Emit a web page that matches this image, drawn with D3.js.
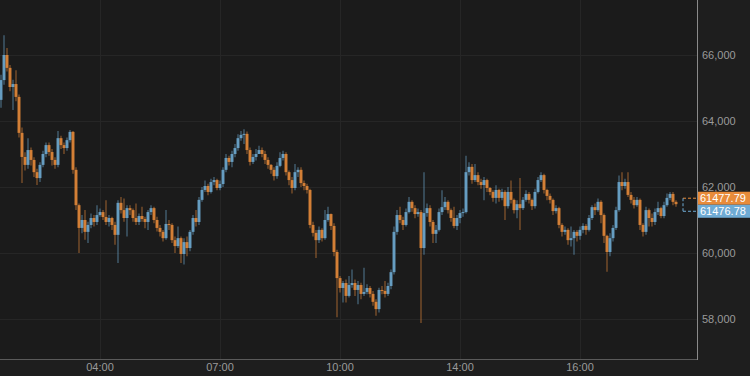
<!DOCTYPE html>
<html>
<head>
<meta charset="utf-8">
<script src="https://cdn.jsdelivr.net/npm/d3@7"></script>
<style>
  html, body { margin: 0; padding: 0; background: #1e1e1e; }
  svg { display: block; font-family: "Liberation Sans", Arial, sans-serif; }
</style>
</head>
<body>
<svg id="chart"></svg>
<script>
// ---- Data ----
const firstOpen = 64640;
const closes = [
  65240, 66000, 65610, 65030, 65120, 64730, 63640, 62910, 62670, 63120,
  62820, 62450, 62270, 62670, 63000, 63270, 63060, 62820, 62670, 63480,
  63270, 63180, 63420, 63670, 62520, 61450, 60760, 61000, 60640, 60850,
  61060, 60940, 61150, 61240, 61090, 60940, 61060, 60850, 60550, 61520,
  61300, 61060, 61360, 61300, 61060, 60940, 61120, 61030, 60940, 61240,
  61360, 61000, 60760, 60640, 60450, 60880, 60850, 60390, 60210, 60450,
  59970, 60330, 60150, 60640, 61060, 60940, 61610, 61910, 62030, 61850,
  62150, 62210, 61970, 62090, 62520, 62880, 62760, 63000, 63180, 63480,
  63580, 63610, 63120, 62760, 62910, 63000, 63120, 63000, 62820, 62670,
  62520, 62330, 62640, 62880, 63000, 62450, 62210, 61970, 62450, 62520,
  62120, 62030, 61910, 60850, 60610, 60390, 60700, 60450, 61000, 61180,
  60820, 60030, 59240, 58940, 59090, 58700, 59030, 59090, 58880, 59030,
  58760, 58820, 58940, 58760, 58520, 58300, 58880, 58850, 58760, 59000,
  59420, 60640, 61150, 61000, 60850, 61240, 61550, 61360, 61180, 61240,
  60150, 61210, 61360, 60940, 60580, 60700, 61240, 61390, 61550, 61300,
  61060, 60820, 61060, 61210, 61240, 62450, 62610, 62210, 62360, 62150,
  62060, 62210, 61970, 61850, 61670, 61910, 61670, 61850, 61420, 61850,
  61610, 61300, 61480, 61360, 61610, 61790, 61610, 61420, 61850, 62210,
  62360, 61910, 61730, 61610, 61270, 61360, 60850, 60640, 60700, 60390,
  60450, 60640, 60520, 60700, 60820, 60700, 61060, 61390, 61300, 61550,
  61150, 60520, 60030, 60450, 60760, 61300, 62150, 62030, 62150, 61760,
  61610, 61450, 61610, 60850, 60640, 61300, 61060, 60940, 61240, 61360,
  61120, 61450, 61670, 61790, 61550, 61480
];
const highs = [
  65400, 66600, 66210, 65700, 65250, 65540, 64800, 63800, 63050, 63480,
  63200, 62900, 62550, 62750, 63100, 63350, 63350, 63150, 62900, 63700,
  63550, 63350, 63500, 63730, 63700, 62600, 61500, 61150, 61300, 60950,
  61200, 61150, 61450, 61350, 61300, 61600, 61150, 61100, 60950, 61600,
  61700, 61650, 61450, 61450, 61350, 61500, 61200, 61400, 61100, 61300,
  61450, 61400, 61100, 60850, 60700, 61300, 61000, 60900, 60500, 60800,
  60500, 60450, 60500, 60700, 61150, 61300, 61700, 62000, 62200, 62100,
  62250, 62300, 62250, 62200, 62600, 63000, 62950, 63100, 63300, 63600,
  63700, 63750, 63680, 63200, 63000, 63150, 63250, 63200, 63100, 62900,
  62700, 62600, 62750, 63050, 63100, 63050, 62500, 62300, 62700, 62600,
  62600, 62200, 62100, 61950, 60950, 60700, 60800, 60750, 61300, 61400,
  61200, 60900, 60100, 59300, 59150, 59200, 59300, 59500, 59200, 59150,
  59100, 59550, 59050, 59000, 58850, 58600, 58950, 59000, 59150, 59100,
  59500, 60800, 61300, 61400, 61100, 61350, 61700, 61600, 61450, 61350,
  61300, 62450, 61500, 61450, 61000, 60850, 61350, 61900, 61700, 61600,
  61350, 61400, 61150, 61300, 61350, 62950, 62750, 62700, 62700, 62450,
  62250, 62300, 62250, 62000, 61900, 62050, 61950, 61950, 61900, 62000,
  62200, 61650, 61600, 62270, 61700, 61900, 61850, 61650, 61950, 62300,
  62450, 62400, 61950, 61800, 61650, 61450, 61400, 60900, 60800, 60750,
  60800, 60700, 60700, 60800, 60900, 60880, 61150, 61450, 61500, 61650,
  61600, 61200, 60550, 60600, 60850, 61400, 62350, 62450, 62250, 62450,
  61850, 61700, 61700, 61650, 60900, 61400, 61350, 61200, 61350, 61550,
  61400, 61550, 61800, 61850, 61850, 61600
];
const lows = [
  64400, 65100, 65500, 64900, 64330, 64600, 63500, 62120, 62500, 62550,
  62650, 62300, 62060, 62150, 62600, 62900, 62950, 62650, 62550, 62600,
  63150, 63000, 63100, 63350, 62400, 61300, 60000, 60600, 60400, 60300,
  60750, 60800, 60850, 61100, 61000, 60850, 60800, 60700, 60250, 59700,
  61200, 60950, 60500, 61150, 60950, 60850, 60850, 60950, 60750, 60700,
  61150, 60900, 60650, 60500, 60350, 60400, 60700, 60300, 60000, 60150,
  59700, 59650, 59900, 60050, 60550, 60800, 60850, 61550, 61850, 61750,
  61800, 62050, 61900, 61900, 62000, 62450, 62650, 62600, 62900, 63100,
  63400, 63300, 63000, 62650, 62700, 62800, 63000, 62900, 62700, 62550,
  62400, 62200, 62250, 62600, 62800, 62350, 62050, 61800, 61900, 62300,
  62000, 61900, 61800, 60750, 60500, 59850, 60300, 60350, 60400, 60950,
  60700, 59900, 58050, 58800, 58500, 58500, 58650, 58950, 58700, 58450,
  58600, 58700, 58750, 58650, 58400, 58100, 58200, 58750, 58650, 58700,
  58900, 59350, 60550, 60900, 60700, 60800, 61200, 61250, 61050, 61100,
  57880, 59950, 61100, 60800, 60300, 60300, 60650, 61150, 61300, 61200,
  60950, 60750, 60700, 60900, 61100, 61200, 62350, 62100, 62150, 62050,
  61950, 61600, 61850, 61750, 61550, 61500, 61550, 61600, 61000, 61350,
  61500, 61200, 61050, 60700, 61300, 61550, 61500, 61300, 61350, 61800,
  62150, 61800, 61600, 61500, 61150, 61200, 60750, 60500, 60550, 60250,
  60200, 59950, 60350, 60400, 60600, 60550, 60650, 61000, 61150, 61250,
  60900, 60300, 59430, 59900, 60350, 60700, 61250, 61900, 61950, 61700,
  61500, 61350, 61400, 60700, 60500, 60550, 60800, 60800, 60850, 61150,
  61050, 61050, 61400, 61600, 61450, 61400
];

const yTicks = [58000, 60000, 62000, 64000, 66000];
const timeLabels = ['04:00', '07:00', '10:00', '14:00', '16:00'];
const timeIndex = [33, 73, 113, 153, 193];

const lastAsk = 61477.79;
const lastBid = 61476.78;

// ---- Layout ----
const W = 750, H = 376;
const plotRight = 697, plotBottom = 359;
const UP = '#6fabd4', DOWN = '#e88b3a';

const svg = d3.select('#chart').attr('width', W).attr('height', H);

svg.append('rect').attr('width', W).attr('height', H).attr('fill', '#1e1e1e');
svg.append('rect').attr('width', plotRight).attr('height', plotBottom).attr('fill', '#1b1b1b');

const x = d3.scaleLinear().domain([0, closes.length - 1]).range([1, 676]);
const y = d3.scaleLinear().domain([58000, 66000]).range([319, 55]);

// ---- Grid ----
const grid = svg.append('g').attr('stroke', '#262626').attr('stroke-width', 1);
grid.selectAll('.hg').data(yTicks).join('line')
  .attr('x1', 0).attr('x2', plotRight)
  .attr('y1', d => Math.round(y(d)) + 0.5).attr('y2', d => Math.round(y(d)) + 0.5);
grid.selectAll('.vg').data(timeIndex).join('line')
  .attr('y1', 0).attr('y2', plotBottom)
  .attr('x1', d => Math.round(x(d)) + 0.5).attr('x2', d => Math.round(x(d)) + 0.5);

// ---- Candles ----
const candles = closes.map((c, i) => ({
  i, close: c, open: i === 0 ? firstOpen : closes[i - 1], high: highs[i], low: lows[i]
}));

const layer = svg.append('g');
const g = layer.selectAll('g.candle').data(candles).join('g').attr('class', 'candle');

g.append('line')
  .attr('x1', d => x(d.i)).attr('x2', d => x(d.i))
  .attr('y1', d => y(d.high)).attr('y2', d => y(d.low))
  .attr('stroke', d => d.close >= d.open ? UP : DOWN)
  .attr('stroke-opacity', 0.55)
  .attr('stroke-width', 1.2);

g.append('rect')
  .attr('x', d => x(d.i) - 1.5)
  .attr('width', 3)
  .attr('y', d => y(Math.max(d.open, d.close)))
  .attr('height', d => Math.max(1, Math.abs(y(d.open) - y(d.close))))
  .attr('fill', d => d.close >= d.open ? UP : DOWN)
  .attr('fill-opacity', 0.85);

// ---- Last price marker ----
const mx = 683;
const yA = y(lastAsk) - 6, yB = y(lastBid) + 7;
svg.append('line').attr('x1', mx).attr('x2', plotRight).attr('y1', yA).attr('y2', yA)
  .attr('stroke', DOWN).attr('stroke-dasharray', '3,2');
svg.append('line').attr('x1', mx).attr('x2', plotRight).attr('y1', yB).attr('y2', yB)
  .attr('stroke', UP).attr('stroke-dasharray', '3,2');
svg.append('line').attr('x1', mx).attr('x2', mx).attr('y1', yA).attr('y2', yB)
  .attr('stroke', UP).attr('stroke-dasharray', '3,2');

// ---- Axes ----
svg.append('line').attr('x1', plotRight + 0.5).attr('x2', plotRight + 0.5)
  .attr('y1', 0).attr('y2', plotBottom + 1).attr('stroke', '#8a8a8a');
svg.append('line').attr('x1', 0).attr('x2', plotRight)
  .attr('y1', plotBottom + 0.5).attr('y2', plotBottom + 0.5).attr('stroke', '#5a5a5a');

svg.selectAll('.ylab').data(yTicks).join('text')
  .attr('x', 702).attr('y', d => y(d) + 4)
  .attr('fill', '#9a9a9a').attr('font-size', 11)
  .text(d => d3.format(',')(d));

svg.selectAll('.xlab').data(timeIndex).join('text')
  .attr('x', d => x(d)).attr('y', 371)
  .attr('text-anchor', 'middle')
  .attr('fill', '#9a9a9a').attr('font-size', 11)
  .text((d, i) => timeLabels[i]);

// ---- Price tags ----
const tags = [
  { v: lastAsk, cy: yA, color: DOWN },
  { v: lastBid, cy: yB, color: UP }
];
const tg = svg.selectAll('.tag').data(tags).join('g');
tg.append('rect').attr('x', plotRight + 1).attr('y', d => d.cy - 6.5)
  .attr('width', W - plotRight - 1).attr('height', 13).attr('fill', d => d.color);
tg.append('text').attr('x', 700).attr('y', d => d.cy + 4)
  .attr('fill', '#fff').attr('font-size', 11)
  .text(d => d.v.toFixed(2));
</script>
</body>
</html>
